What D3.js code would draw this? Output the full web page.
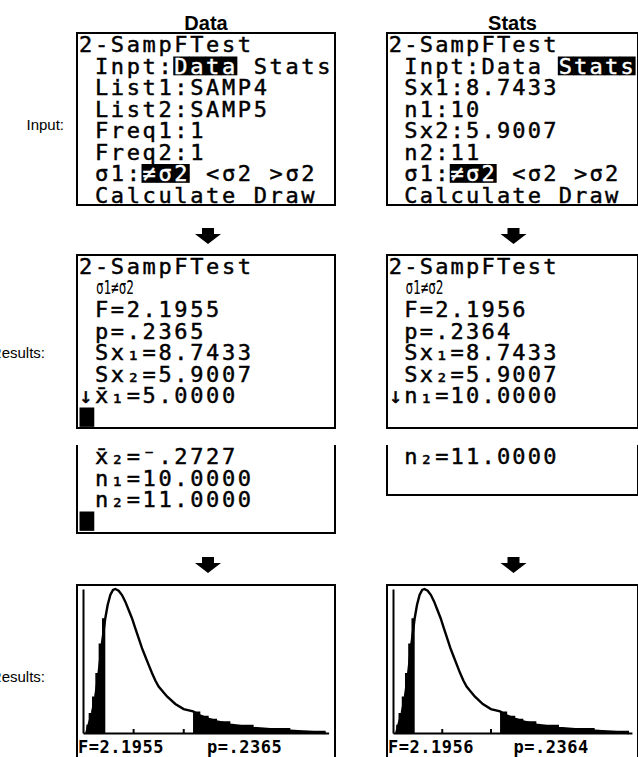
<!DOCTYPE html>
<html><head><meta charset="utf-8">
<script src="https://cdn.jsdelivr.net/npm/d3@7"></script>
<style>body{margin:0;background:#fff;overflow:hidden} svg{display:block}</style>
</head><body>
<svg id="c" width="638" height="757"></svg>
<script>
// ---------------- data ----------------
const columnTitles = ["Data", "Stats"];
const rowLabels = ["Input:", "Results:", "Results:"];
// [..] = inverted (highlighted) cells, {..} = small font, █ = cursor
const inputScreenData = ["2-SampFTest", " Inpt:[Data] Stats", " List1:SAMP4", " List2:SAMP5", " Freq1:1", " Freq2:1", " σ1:[≠σ2] <σ2 >σ2", " Calculate Draw"];
const inputScreenStats = ["2-SampFTest", " Inpt:Data [Stats]", " Sx1:8.7433", " n1:10", " Sx2:5.9007", " n2:11", " σ1:[≠σ2] <σ2 >σ2", " Calculate Draw"];
const resultScreenData = ["2-SampFTest", " {σ1≠σ2}", " F=2.1955", " p=.2365", " Sx₁=8.7433", " Sx₂=5.9007", "↓x̄₁=5.0000", "█"];
const resultScreenStats = ["2-SampFTest", " {σ1≠σ2}", " F=2.1956", " p=.2364", " Sx₁=8.7433", " Sx₂=5.9007", "↓n₁=10.0000", ""];
const moreScreenData = [" x̄₂=⁻.2727", " n₁=10.0000", " n₂=11.0000", "█"];
const moreScreenStats = [" n₂=11.0000", ""];

// F-distribution curve (F value, density)
const curveF = [0.066, 0.113, 0.180, 0.246, 0.312, 0.379, 0.445, 0.492, 0.545, 0.598, 0.645, 0.711, 0.778, 0.844, 0.911, 0.977, 1.044, 1.110, 1.177, 1.243, 1.310, 1.376, 1.443, 1.509, 1.676, 1.842, 2.008, 2.1955, 2.341, 2.507, 2.673, 2.940, 3.404, 4.136, 4.840];
const curveD = [0.000, 0.043, 0.103, 0.188, 0.308, 0.460, 0.590, 0.658, 0.709, 0.735, 0.740, 0.731, 0.709, 0.675, 0.632, 0.590, 0.538, 0.487, 0.436, 0.393, 0.350, 0.308, 0.270, 0.239, 0.188, 0.149, 0.123, 0.111, 0.089, 0.073, 0.060, 0.043, 0.026, 0.012, 0.000];
const graphF = ["2.1955", "2.1956"];
const graphP = [".2365", ".2364"];
const lowerCut = 0.445;
const upperCut = 2.1955;
const xWindow = [0, 4.9];
const yWindow = [0, 0.74];
const xTicks = [1, 2, 3, 4];

// ---------------- layout ----------------
const svg = d3.select("#c");
const colX = [77, 387], colW = [258, 251];
const screenH = 172;
const tiFont = "'DejaVu Sans Mono', monospace";
const sansFont = "'Liberation Sans', Arial, Helvetica, sans-serif";

function parseLine(str) {
  const cells = []; let hl = false, small = false;
  for (const ch of Array.from(str)) {
    if (ch === "[") { hl = true; continue; }
    if (ch === "]") { hl = false; continue; }
    if (ch === "{") { small = true; continue; }
    if (ch === "}") { small = false; continue; }
    if (/[\u0300-\u036f]/.test(ch) && cells.length) { cells[cells.length - 1].ch += ch; continue; }
    cells.push({ ch, hl, small });
  }
  return cells;
}

function drawScreen(lines, x, y, w, h, openTop) {
  const g = svg.append("g");
  const rowH = 21.5, s = rowH / 8, cw = (w - 4) / 16;
  if (openTop) {
    g.append("path").attr("d", `M${x},${y} V${y + h} H${x + w} V${y}`)
      .attr("fill", "none").attr("stroke", "#000").attr("stroke-width", 2);
  } else {
    g.append("rect").attr("x", x).attr("y", y).attr("width", w).attr("height", h)
      .attr("fill", "none").attr("stroke", "#000").attr("stroke-width", 2);
  }
  lines.forEach((line, r) => {
    const cells = parseLine(line);
    const rowTop = y + 2 + r * rowH;
    const base = rowTop + 7 * s - 1.5;
    const cellX = c => x + 2 + c * cw;
    cells.forEach((cell, c) => {
      if (cell.hl) g.append("rect").attr("x", cellX(c) - 1).attr("y", rowTop).attr("width", cw + 0.6).attr("height", 7 * s).attr("fill", "#000");
      if (cell.ch === "█") g.append("rect").attr("x", cellX(c) + 0.5).attr("y", rowTop).attr("width", 5.5 * s).attr("height", 7.2 * s).attr("fill", "#000");
    });
    const smallStart = cells.findIndex(cl => cl.small);
    if (smallStart >= 0) {
      const run = cells.filter(cl => cl.small).map(cl => cl.ch).join("");
      g.append("text").attr("x", cellX(smallStart) + 1).attr("y", rowTop + 6 * s - 0.5)
        .attr("font-family", tiFont).attr("font-size", 19)
        .attr("textLength", 38).attr("lengthAdjust", "spacingAndGlyphs")
        .text(run);
    }
    const normal = cells.map((cell, c) => ({ ...cell, c })).filter(cl => !cl.small && cl.ch !== " " && cl.ch !== "█");
    if (!normal.length) return;
    const t = g.append("text").attr("y", base).attr("font-family", tiFont).attr("font-size", 22)
      .attr("text-anchor", "middle");
    normal.forEach(cl => {
      const col = cl.hl ? "#fff" : "#000";
      t.append("tspan").attr("x", cellX(cl.c) + cw * 0.42).attr("fill", col)
        .attr("stroke", col).attr("stroke-width", 0.45).text(cl.ch);
    });
  });
}

function drawArrow(cx, top) {
  svg.append("path")
    .attr("d", `M${cx - 6},${top} H${cx + 6} V${top + 6} H${cx + 13} L${cx},${top + 16} L${cx - 13},${top + 6} H${cx - 6} Z`)
    .attr("fill", "#000");
}

function drawGraph(col) {
  const x0 = colX[col], w = colW[col], top = 585;
  const s = screenH / 64;
  const g = svg.append("g");
  g.append("rect").attr("x", x0).attr("y", top).attr("width", w).attr("height", screenH + 2)
    .attr("fill", "none").attr("stroke", "#000").attr("stroke-width", 2);
  const xs = d3.scaleLinear().domain(xWindow).range([x0 + 6, x0 + 6 + 245.6 * (w / 258)]);
  const ys = d3.scaleLinear().domain(yWindow).range([733, 589]);
  const pts = curveF.map((f, i) => ({ f, d: curveD[i] }));
  const areaL = d3.area().x(d => xs(d.f)).y0(ys(0)).y1(d => ys(d.d)).curve(d3.curveStepBefore);
  const areaR = d3.area().x(d => xs(d.f)).y0(ys(0)).y1(d => ys(d.d)).curve(d3.curveStepAfter);
  g.append("path").datum(pts).attr("d", d3.line().x(d => xs(d.f)).y(d => ys(d.d)))
    .attr("fill", "none").attr("stroke", "#000").attr("stroke-width", 2.4);
  g.append("path").datum(pts.filter(p => p.f <= lowerCut)).attr("d", areaL).attr("fill", "#000");
  g.append("path").datum(pts.filter(p => p.f >= upperCut)).attr("d", areaR).attr("fill", "#000");
  const xAxis = d3.axisBottom(xs).tickValues(xTicks).tickSizeInner(-4).tickSizeOuter(0).tickFormat("");
  const ax = g.append("g").attr("transform", `translate(0,${ys(0)})`).call(xAxis);
  ax.select(".domain").attr("stroke-width", 2);
  ax.selectAll(".tick line").attr("stroke-width", 2);
  const yAxis = d3.axisLeft(ys).tickValues([]).tickSizeOuter(0);
  const ay = g.append("g").attr("transform", `translate(${xs(0)},0)`).call(yAxis);
  ay.select(".domain").attr("stroke-width", 2);
  const small = (str, startX) => {
    const t = g.append("text").attr("y", 753).attr("text-anchor", "middle")
      .attr("font-family", tiFont).attr("font-weight", "bold").attr("font-size", 17);
    Array.from(str).forEach((ch, i) => {
      t.append("tspan").attr("x", startX + i * 4 * s + 1.5 * s).text(ch);
    });
  };
  small("F=" + graphF[col], x0 + 2);
  small("p=" + graphP[col], x0 + 2 + 48 * s * (w / 258));
}

// titles
columnTitles.forEach((t, i) => {
  svg.append("text").attr("x", colX[i] + colW[i] / 2).attr("y", 30)
    .attr("text-anchor", "middle").attr("font-family", sansFont).attr("font-weight", "bold")
    .attr("font-size", 20).text(t);
});
// row labels
svg.append("text").attr("x", 64).attr("y", 130).attr("text-anchor", "end").attr("font-family", sansFont).attr("font-size", 15).text(rowLabels[0]);
svg.append("text").attr("x", 45).attr("y", 358).attr("text-anchor", "end").attr("font-family", sansFont).attr("font-size", 15).text(rowLabels[1]);
svg.append("text").attr("x", 45).attr("y", 682).attr("text-anchor", "end").attr("font-family", sansFont).attr("font-size", 15).text(rowLabels[2]);

// screens
drawScreen(inputScreenData, colX[0], 33, colW[0], screenH, false);
drawScreen(inputScreenStats, colX[1], 33, colW[1], screenH, false);
drawScreen(resultScreenData, colX[0], 255, colW[0], screenH + 1, false);
drawScreen(resultScreenStats, colX[1], 255, colW[1], screenH + 1, false);
drawScreen(moreScreenData, colX[0], 445, colW[0], 88, true);
drawScreen(moreScreenStats, colX[1], 445, colW[1], 50, true);
// arrows
drawArrow(colX[0] + colW[0] / 2 + 2, 228);
drawArrow(colX[1] + colW[1] / 2 + 1, 228);
drawArrow(colX[0] + colW[0] / 2 + 2, 557);
drawArrow(colX[1] + colW[1] / 2 + 1, 557);
drawGraph(0);
drawGraph(1);
</script>
</body></html>
